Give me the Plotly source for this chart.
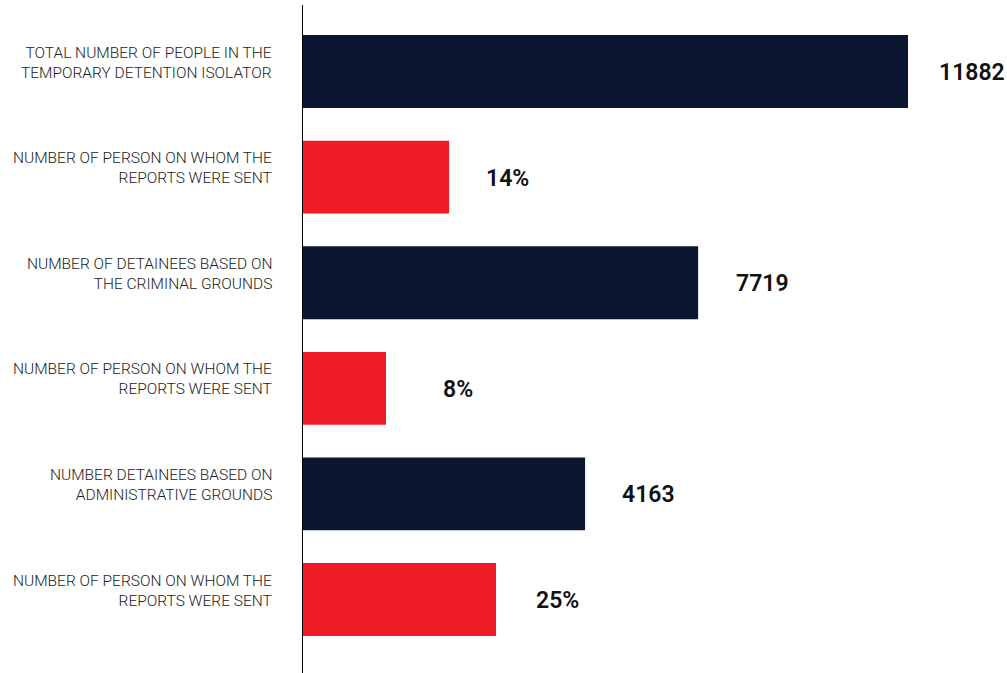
import plotly.graph_objects as go

categories = [
    "TOTAL NUMBER OF PEOPLE IN THE<br>TEMPORARY DETENTION ISOLATOR",
    "NUMBER OF PERSON ON WHOM THE<br>REPORTS WERE SENT",
    "NUMBER OF DETAINEES BASED ON<br>THE CRIMINAL GROUNDS",
    "NUMBER OF PERSON ON WHOM THE<br>REPORTS WERE SENT",
    "NUMBER DETAINEES BASED ON<br>ADMINISTRATIVE GROUNDS",
    "NUMBER OF PERSON ON WHOM THE<br>REPORTS WERE SENT",
]
# bar lengths as drawn (relative units)
bar_lengths = [11882, 2870, 7760, 1630, 5540, 3790]
value_labels = ["11882", "14%", "7719", "8%", "4163", "25%"]
bar_colors = ["#0b1730", "#ee1c25", "#0b1730", "#ee1c25", "#0b1730", "#ee1c25"]
label_shift = [29, 35, 36, 55, 35, 38]

idx = list(range(len(categories)))

fig = go.Figure()
fig.add_trace(go.Bar(
    y=idx, x=bar_lengths, orientation="h",
    marker=dict(color=bar_colors, line=dict(width=0)),
    hoverinfo="skip",
))

for i, (v, t, s) in enumerate(zip(bar_lengths, value_labels, label_shift)):
    fig.add_annotation(x=v, y=i, xref="x", yref="y", text=t, showarrow=False,
                       xanchor="left", xshift=s, yshift=-1,
                       font=dict(family="Roboto", size=23, color="#111111", weight=600))
for i, c in enumerate(categories):
    fig.add_annotation(x=0, y=i, xref="paper", yref="y", text=c, showarrow=False,
                       xanchor="right", align="right", xshift=-29, yshift=9,
                       font=dict(family="Roboto", size=15.5, color="#222222", weight=300))

fig.update_layout(
    width=1007, height=673,
    margin=dict(l=303, r=0, t=5, b=0),
    plot_bgcolor="white", paper_bgcolor="white",
    showlegend=False,
    bargap=0.31,
    xaxis=dict(range=[0, 11882 * 704 / 605], visible=False, showgrid=False, zeroline=False),
    yaxis=dict(range=[5.696, -0.63], showticklabels=False, showgrid=False, zeroline=False,
               showline=True, linecolor="#000000", linewidth=1, ticks=""),
)

fig.write_html("out.html")
